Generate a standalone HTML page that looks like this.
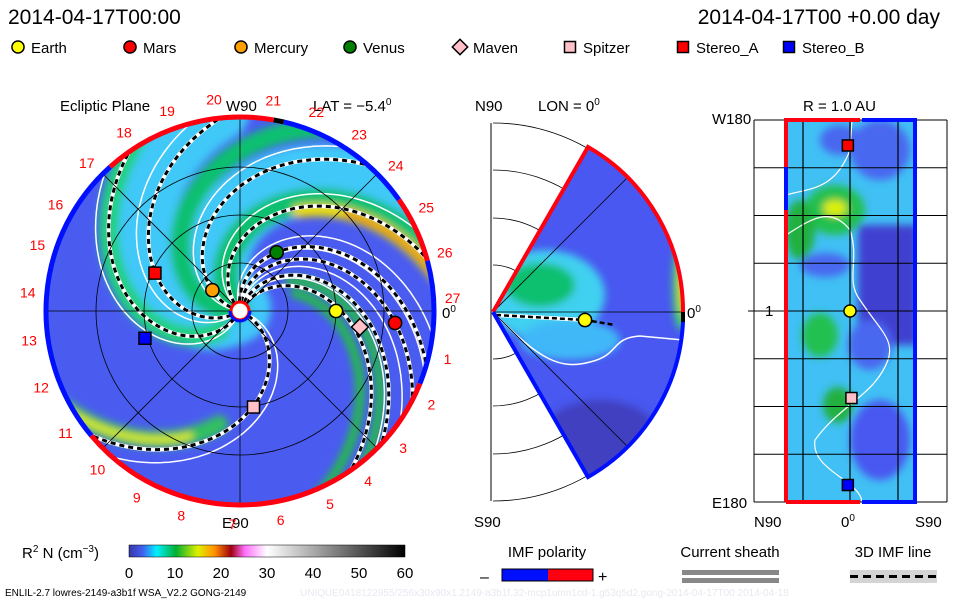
<!DOCTYPE html>
<html><head><meta charset="utf-8"><style>
body{margin:0;background:#fff;}
svg{display:block;font-family:"Liberation Sans","DejaVu Sans",sans-serif;}
</style></head><body>
<svg id="s" width="960" height="600" viewBox="0 0 960 600" xmlns="http://www.w3.org/2000/svg">
<defs>
<clipPath id="circ"><circle cx="240" cy="311" r="192"/></clipPath>
<clipPath id="wedge"><path d="M493,312 L588,147 A189,189 0 0 1 588,477 Z"/></clipPath>
<clipPath id="rbox"><rect x="786" y="120" width="129" height="382"/></clipPath>
<filter id="bl" x="-20%" y="-20%" width="140%" height="140%"><feGaussianBlur stdDeviation="4"/></filter>
<linearGradient id="cb" x1="0" x2="1" y1="0" y2="0">
<stop offset="0" stop-color="#3838a8"/><stop offset="0.05" stop-color="#4060f0"/>
<stop offset="0.1" stop-color="#00f0ff"/><stop offset="0.17" stop-color="#00b030"/>
<stop offset="0.25" stop-color="#e0f000"/><stop offset="0.31" stop-color="#ff9000"/>
<stop offset="0.37" stop-color="#a00010"/><stop offset="0.42" stop-color="#ff70ff"/>
<stop offset="0.5" stop-color="#ffffff"/><stop offset="1" stop-color="#000000"/>
</linearGradient>
</defs>

<text x="8" y="24" font-size="21">2014-04-17T00:00</text>
<text x="940" y="24" font-size="21" text-anchor="end">2014-04-17T00 +0.00 day</text>
<g id="legend"></g>

<text x="60" y="111" font-size="15">Ecliptic Plane</text>
<text x="226" y="111" font-size="15">W90</text>
<text x="313" y="111" font-size="15">LAT = −5.4<tspan dy="-6" font-size="10">0</tspan></text>
<text x="222" y="528" font-size="15">E90</text>
<text x="442" y="318" font-size="15">0<tspan dy="-6" font-size="10">0</tspan></text>
<g id="ecl"></g>

<text x="475" y="111" font-size="15">N90</text>
<text x="538" y="111" font-size="15">LON = 0<tspan dy="-6" font-size="10">0</tspan></text>
<text x="474" y="527" font-size="15">S90</text>
<text x="687" y="318" font-size="15">0<tspan dy="-6" font-size="10">0</tspan></text>
<g id="mer"></g>

<text x="803" y="111" font-size="15">R = 1.0 AU</text>
<text x="712" y="124" font-size="15">W180</text>
<text x="765" y="316" font-size="15">1</text>
<text x="712" y="508" font-size="15">E180</text>
<text x="754" y="527" font-size="15">N90</text>
<text x="841" y="527" font-size="15">0<tspan dy="-6" font-size="10">0</tspan></text>
<text x="915" y="527" font-size="15">S90</text>
<g id="rp"></g>

<text x="22" y="558" font-size="15">R<tspan dy="-6" font-size="10">2</tspan><tspan dy="6"> N (cm</tspan><tspan dy="-6" font-size="10">−3</tspan><tspan dy="6">)</tspan></text>
<rect x="129" y="545" width="276" height="12" fill="url(#cb)" stroke="#000" stroke-width="0.5"/>
<g id="cbt"></g>
<text x="547" y="557" font-size="15" text-anchor="middle">IMF polarity</text>
<text x="480" y="582" font-size="16">–</text>
<rect x="502" y="569" width="46" height="12" fill="#0010ff"/>
<rect x="548" y="569" width="45" height="12" fill="#ff0010"/>
<rect x="502" y="569" width="91" height="12" fill="none" stroke="#000"/>
<text x="598" y="582" font-size="16">+</text>
<text x="730" y="557" font-size="15" text-anchor="middle">Current sheath</text>
<rect x="682" y="570" width="97" height="5" fill="#888"/>
<rect x="682" y="578" width="97" height="5" fill="#888"/>
<text x="893" y="557" font-size="15" text-anchor="middle">3D IMF line</text>
<rect x="850" y="570" width="87" height="13" fill="#d4d4d4"/>
<line x1="850" y1="576.5" x2="937" y2="576.5" stroke="#000" stroke-width="3" stroke-dasharray="8,5"/>
<text x="5" y="596" font-size="10">ENLIL-2.7 lowres-2149-a3b1f WSA_V2.2 GONG-2149</text>
<text x="300" y="596" font-size="10" fill="#e8e8f0">UNIQUE0418122955/256x30x90x1.2149-a3b1f.32-mcp1umn1cd-1.g53q5d2.gong-2014-04-17T00   2014-04-18</text>
</svg>
<script>
const NS='http://www.w3.org/2000/svg';
const bodies=['Earth','Mars','Mercury','Venus','Maven','Spitzer','Stereo_A','Stereo_B'];
const bodyColors=['#ffff00','#ff0000','#ffa000','#008000','#ffc0c8','#ffc0c8','#ff0000','#0000ff'];
const bodyShapes=['circle','circle','circle','circle','diamond','square','square','square'];
const bodyRadiusAU=[1.0,1.62,0.36,0.72,1.26,1.01,0.97,1.03];
const bodyLonDeg=[0,-4.4,143,58,-7.6,-82,156,-164];
const rPanelLat=[0,null,null,null,null,2,-3,-3];
const rPanelLon=[0,null,null,null,null,-82,156,-164];
const legendX=[18,130,241,350,460,570,683,789];
const carrNums=[1,2,3,4,5,6,7,8,9,10,11,12,13,14,15,16,17,18,19,20,21,22,23,24,25,26,27];
const carrAngles=[-13,-26,-40,-53,-65,-79,-92,-106,-119,-132,-145,-159,-172,175,162,150,136,123,110,97,81,69,56,43,29,16,3.5];
const bandTheta0=[150,215,135,185,240,128,128,328,328,52,66];
const bandStart=[0.05,0.05,0.05,0.05,0.3,1.2,1.5,1.2,1.4,0.6,0.6];
const bandWidth=[70,60,25,20,20,12,5,18,6,9,9];
const bandColor=['#40c8f8','#40c8f8','#10c070','#10c070','#20d080','#f0e000','#f07000','#30c060','#f0f000','#20c040','#20c040'];
const imfTheta0=[-25,60,72,88,99,131,164,211,240];
const ringStart=[77,35,15,-22,-140,132,80];
const ringEnd=[35,15,-22,-140,-228,80,77];
const ringColor=['#0010ff','#ff0010','#0010ff','#ff0010','#0010ff','#ff0010','#000'];
const cbTicks=[0,10,20,30,40,50,60];
const CX=240,CY=311,SC=96,SPIRAL=57;
function el(t,a,p){const e=document.createElementNS(NS,t);for(const k in a)e.setAttribute(k,a[k]);p.appendChild(e);return e;}
const rad=d=>d*Math.PI/180;
const px=(r,a)=>CX+r*SC*Math.cos(rad(a)), py=(r,a)=>CY-r*SC*Math.sin(rad(a));
function spiral(t0,r0){let d='';for(let r=r0;r<=2.1;r+=0.02){const a=t0-SPIRAL*r;d+=(d?'L':'M')+px(r,a).toFixed(1)+','+py(r,a).toFixed(1);}return d;}
function marker(g,shape,x,y,c,s){
  let m;
  if(shape==='circle')m=el('circle',{cx:x,cy:y,r:s*0.55,fill:c,stroke:'#000','stroke-width':1.5},g);
  else if(shape==='square')m=el('rect',{x:x-s/2,y:y-s/2,width:s,height:s,fill:c,stroke:'#000','stroke-width':1.5},g);
  else m=el('path',{d:`M${x},${y-s*0.7}L${x+s*0.7},${y}L${x},${y+s*0.7}L${x-s*0.7},${y}Z`,fill:c,stroke:'#000','stroke-width':1.5},g);
  return m;
}
const lg=document.getElementById('legend');
bodies.forEach((b,i)=>{
  const m=marker(lg,bodyShapes[i],legendX[i],47,bodyColors[i],11);
  
  
  const t=el('text',{x:legendX[i]+13,y:53,'font-size':15},lg);t.textContent=b;
  
  
});
const eg=document.getElementById('ecl');
const clip=el('g',{'clip-path':'url(#circ)'},eg);
el('circle',{cx:CX,cy:CY,r:192,fill:'#4a5cf0'},clip);
const bg=el('g',{filter:'url(#bl)'},clip);
bandTheta0.forEach((t0,i)=>{
  const p=el('path',{d:spiral(t0,bandStart[i]),fill:'none',stroke:bandColor[i],'stroke-width':bandWidth[i],'stroke-linecap':'round'},bg);
  
  
});
imfTheta0.forEach(t0=>{
  const d=spiral(t0,0.1);
  el('path',{d:spiral(t0+9,0.1),fill:'none',stroke:'#fff','stroke-width':1.5},clip);
  el('path',{d,fill:'none',stroke:'#fff','stroke-width':4},clip);
  const p=el('path',{d,fill:'none',stroke:'#000','stroke-width':3,'stroke-dasharray':'5,4'},clip);
  
  
});
[0.5,1,1.5].forEach(r=>el('circle',{cx:CX,cy:CY,r:r*SC,fill:'none',stroke:'#000','stroke-width':0.8},eg));
[0,45,90,135].forEach(a=>el('line',{x1:px(2,a),y1:py(2,a),x2:px(-2,a),y2:py(-2,a),stroke:'#000','stroke-width':0.8},eg));
ringStart.forEach((s,i)=>{
  const e=ringEnd[i],r=194,x1=CX+r*Math.cos(rad(s)),y1=CY-r*Math.sin(rad(s)),x2=CX+r*Math.cos(rad(e)),y2=CY-r*Math.sin(rad(e));
  const large=Math.abs(s-e)>180?1:0;
  const p=el('path',{d:`M${x1},${y1}A${r},${r} 0 ${large} 1 ${x2},${y2}`,fill:'none',stroke:ringColor[i],'stroke-width':5},eg);
  
  
});
carrNums.forEach((n,i)=>{
  const a=carrAngles[i],r=213;
  const t=el('text',{x:CX+r*Math.cos(rad(a)),y:CY-r*Math.sin(rad(a))+5,'font-size':14,fill:'#f00','text-anchor':'middle'},eg);
  t.textContent=n;
  
  
});
el('circle',{cx:CX,cy:CY,r:9,fill:'#fff',stroke:'#ff0000','stroke-width':3},eg);
el('path',{d:`M${CX-10},${CY}A10,10 0 0 0 ${CX+10},${CY}`,fill:'none',stroke:'#0010ff','stroke-width':3},eg);
bodies.forEach((b,i)=>{
  const m=marker(eg,bodyShapes[i],px(bodyRadiusAU[i],bodyLonDeg[i]),py(bodyRadiusAU[i],bodyLonDeg[i]),bodyColors[i],12);
  
  
});
const mg=document.getElementById('mer');
const MX=493,MY=312,MR=189;
[47,94,142,189].forEach(r=>el('path',{d:`M${MX},${MY-r}A${r},${r} 0 0 1 ${MX},${MY+r}`,fill:'none',stroke:'#000','stroke-width':0.8},mg));
el('line',{x1:MX-2,y1:MY-MR,x2:MX-2,y2:MY+MR,stroke:'#000'},mg);
const mc=el('g',{'clip-path':'url(#wedge)'},mg);
el('rect',{x:480,y:130,width:220,height:360,fill:'#4858f0'},mc);
const mb=el('g',{filter:'url(#bl)'},mc);
el('ellipse',{cx:545,cy:295,rx:60,ry:45,fill:'#40d0f0'},mb);
el('ellipse',{cx:540,cy:285,rx:35,ry:22,fill:'#10c070'},mb);
el('ellipse',{cx:570,cy:340,rx:50,ry:20,fill:'#40b8f8'},mb);
el('ellipse',{cx:600,cy:440,rx:60,ry:40,fill:'#4040c0'},mb);
el('ellipse',{cx:681,cy:285,rx:8,ry:45,fill:'#40e060'},mb);
el('ellipse',{cx:683,cy:285,rx:4,ry:30,fill:'#f0c000'},mb);
el('path',{d:'M496,315 C540,360 560,370 590,362 C620,355 610,338 640,336 L683,340',fill:'none',stroke:'#fff','stroke-width':1.5},mc);
el('path',{d:'M496,315 L585,320',fill:'none',stroke:'#fff','stroke-width':4},mc);
el('path',{d:'M496,315 L585,320 L615,325',fill:'none',stroke:'#000','stroke-width':2.5,'stroke-dasharray':'5,3'},mc);
el('line',{x1:MX,y1:MY,x2:682,y2:MY,stroke:'#000','stroke-width':0.8},mg);
[45,-45].forEach(a=>el('line',{x1:MX,y1:MY,x2:MX+MR*Math.cos(rad(a)),y2:MY-MR*Math.sin(rad(a)),stroke:'#000','stroke-width':0.8},mg));
el('path',{d:`M${MX},${MY}L588,147A189,189 0 0 1 683,312`,fill:'none',stroke:'#ff0010','stroke-width':4},mg);
el('path',{d:`M683,312L683,322`,fill:'none',stroke:'#000','stroke-width':4},mg);
el('path',{d:`M683,322A189,189 0 0 1 588,477L${MX},${MY}`,fill:'none',stroke:'#0010ff','stroke-width':4},mg);
const me=marker(mg,'circle',585,320,'#ffff00',12);


const rg=document.getElementById('rp');
const RX0=754,RX1=947,RY0=120,RY1=502;
const rc=el('g',{'clip-path':'url(#rbox)'},rg);
el('rect',{x:786,y:120,width:129,height:382,fill:'#40c0f4'},rc);
const rb=el('g',{filter:'url(#bl)'},rc);
el('rect',{x:858,y:225,width:60,height:120,fill:'#4040d0'},rb);
el('ellipse',{cx:835,cy:210,rx:30,ry:25,fill:'#20c050'},rb);
el('ellipse',{cx:835,cy:208,rx:12,ry:8,fill:'#e0f000'},rb);
el('ellipse',{cx:800,cy:230,rx:15,ry:30,fill:'#20b040'},rb);
el('ellipse',{cx:825,cy:265,rx:25,ry:12,fill:'#4868f0'},rb);
el('ellipse',{cx:820,cy:335,rx:18,ry:22,fill:'#20c050'},rb);
el('ellipse',{cx:870,cy:345,rx:22,ry:25,fill:'#4868f0'},rb);
el('ellipse',{cx:838,cy:405,rx:15,ry:18,fill:'#20b040'},rb);
el('ellipse',{cx:880,cy:440,rx:30,ry:40,fill:'#4858f0'},rb);
el('ellipse',{cx:880,cy:150,rx:30,ry:30,fill:'#4868f0'},rb);
el('ellipse',{cx:840,cy:140,rx:20,ry:15,fill:'#4868f0'},rb);
el('path',{d:'M786,195 C810,188 835,190 850,150 L852,120 M786,235 C810,220 830,205 850,230 C860,260 845,280 860,300 C880,330 895,340 888,360 C875,395 840,405 815,440 C810,470 860,480 862,502',fill:'none',stroke:'#fff','stroke-width':1.2},rc);
[RX0,803,850,898,RX1].forEach(x=>el('line',{x1:x,y1:RY0,x2:x,y2:RY1,stroke:'#000','stroke-width':x===RX0||x===RX1?1:1.2},rg));
for(let k=0;k<=8;k++){const y=RY0+k*(RY1-RY0)/8;el('line',{x1:RX0,y1:y,x2:RX1,y2:y,stroke:'#000','stroke-width':1},rg);}
el('line',{x1:748,y1:311,x2:RX0,y2:311,stroke:'#000'},rg);
el('path',{d:'M786,502L786,120L860,120',fill:'none',stroke:'#ff0010','stroke-width':4},rg);
el('path',{d:'M786,167L786,210',fill:'none',stroke:'#0010ff','stroke-width':4},rg);
el('path',{d:'M862,120L915,120L915,502L862,502',fill:'none',stroke:'#0010ff','stroke-width':4},rg);
el('path',{d:'M786,502L860,502',fill:'none',stroke:'#ff0010','stroke-width':4},rg);
bodies.forEach((b,i)=>{
  if(rPanelLat[i]===null)return;
  const x=850+rPanelLat[i]*(RX1-RX0)/180*0.67, y=311-rPanelLon[i]*(RY1-RY0)/360;
  const m=marker(rg,bodyShapes[i],x,y,bodyColors[i],11);
  
  
});
const ct=document.getElementById('cbt');
cbTicks.forEach(v=>{
  const x=129+v/60*276;
  const t=el('text',{x:x,y:578,'font-size':15,'text-anchor':'middle'},ct);t.textContent=v;
  
  
});
</script>
</body></html>
